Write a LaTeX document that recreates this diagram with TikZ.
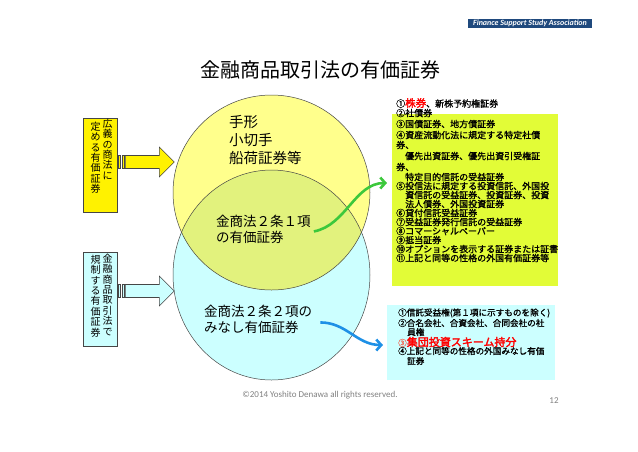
\documentclass[tikz,border=0pt]{standalone}
\usepackage{fontspec}
\setmainfont{Carlito}
\newfontfamily\jp{Noto Sans CJK JP}
\newfontfamily\jpmed{Noto Sans CJK JP}[FakeBold=1.2]
\newfontfamily\jpbold{Noto Sans CJK JP}[FakeBold=2.5]
\usepackage{tikz}
\usetikzlibrary{arrows.meta}
\usetikzlibrary{positioning}
\usetikzlibrary{calc}

\definecolor{hdrblue}{RGB}{31,73,125}
\definecolor{lightyel}{RGB}{255,255,140}
\definecolor{lightcyan}{RGB}{204,255,255}
\definecolor{mixyel}{RGB}{226,242,125}
\definecolor{listyel}{RGB}{226,252,55}
\definecolor{arrgreen}{RGB}{60,200,60}
\definecolor{arrblue}{RGB}{30,144,230}
\definecolor{edgegray}{RGB}{70,70,70}
\definecolor{paleRed}{RGB}{240,110,90}

\begin{document}
\begin{tikzpicture}[x=1pt, y=-1pt,
    every node/.style={inner sep=0pt, font=\jp},
    vbox/.style={draw=edgegray, line width=0.6pt, minimum width=34pt, minimum height=94pt},
    vcol/.style={anchor=north, align=center, font=\jp\fontsize{10}{10.4}\selectfont},
    circtext/.style={anchor=north west, align=left},
    item/.style={anchor=west, font=\jpmed\fontsize{9}{9}\selectfont},
    curvy/.style={line width=2.6pt, -{Straight Barb[length=5pt, width=11pt]}},
    blockarr/.style={draw=edgegray, line width=0.6pt}]
      \useasboundingbox (0,0) rectangle (638,451);
      % Striped block arrow at a given point
      \def\stripearrow#1#2{%
        \begin{scope}[shift={(#1)}]
          \filldraw[blockarr, fill=#2] (1,-6.5) rectangle (3,6.5);
          \filldraw[blockarr, fill=#2] (4.5,-6.5) rectangle (6.5,6.5);
          \filldraw[blockarr, fill=#2] (8,-6.5) -- (42,-6.5) -- (42,-15) -- (57,0)
            -- (42,15) -- (42,6.5) -- (8,6.5) -- cycle;
        \end{scope}}
      % Header bar and title
      \node[fill=hdrblue, text=white, minimum width=124pt, minimum height=9pt,
        font=\rmfamily\bfseries\itshape\fontsize{8}{9}\selectfont] (hdr) at (530,23)
        {Finance Support Study Association};
      \node[font=\jp\fontsize{20}{24}\selectfont] (title) at (320,70) {金融商品取引法の有価証券};
      % The two circles and their overlap
      \coordinate (ycen) at (271.5,192.5);
      \coordinate (bcen) at (271.5,275);
      \fill[lightcyan] (bcen) ellipse [x radius=98.5, y radius=105];
      \fill[lightyel] (ycen) ellipse [x radius=98.5, y radius=97.5];
      \begin{scope}
        \clip (bcen) ellipse [x radius=98.5, y radius=105];
        \fill[mixyel] (ycen) ellipse [x radius=98.5, y radius=97.5];
      \end{scope}
      \draw[edgegray, line width=0.5pt] (bcen) ellipse [x radius=98.5, y radius=105];
      \draw[edgegray, line width=0.5pt] (ycen) ellipse [x radius=98.5, y radius=97.5];
      % Texts inside the circles
      \node[circtext, font=\jp\fontsize{14.5}{18}\selectfont] (tegata) at (229,115)
        {手形\\小切手\\船荷証券等};
      \node[circtext, font=\jp\fontsize{13.5}{16}\selectfont] (art1) at (216,215)
        {金商法２条１項\\の有価証券};
      \node[circtext, font=\jp\fontsize{13.5}{16}\selectfont] (minashi) at (204,305)
        {金商法２条２項の\\みなし有価証券};
      % Left boxes with vertical text
      \node[vbox, fill=yellow] (kogi) at (100,165) {};
      \node[vcol] (kogiR) at ([shift={(7.5,1)}]kogi.north) {広\\義\\の\\商\\法\\に};
      \node[vcol] (kogiL) at ([shift={(-4.5,4)}]kogi.north) {定\\め\\る\\有\\価\\証\\券};
      \node[vbox, fill=lightcyan] (kisei) at (100,299) {};
      \node[vcol] (kiseiR) at ([shift={(7.5,2)}]kisei.north) {金\\融\\商\\品\\取\\引\\法\\で};
      \node[vcol] (kiseiL) at ([shift={(-4.5,3)}]kisei.north) {規\\制\\す\\る\\有\\価\\証\\券};
      \stripearrow{$(kogi.east)+(0,-3)$}{yellow}
      \stripearrow{$(kisei.east)+(0,-8)$}{lightcyan}
      % List of securities under Art. 2(1)
      \node[fill=listyel, minimum width=166pt, minimum height=172pt, anchor=north west] (list1) at (392,114) {};
      \foreach \x/\y/\t [count=\i] in {
          396/103/{①{\jpbold\color{red}\fontsize{10.5}{10}\selectfont 株券}、新株予約権証券},
          396/113/{②社債券},
          396/124/{③国債証券、地方債証券},
          396/135/{④資産流動化法に規定する特定社債},
          396/145/{券、},
          405/156/{優先出資証券、優先出資引受権証},
          396/167/{券、},
          405/177/{特定目的信託の受益証券},
          396/186/{⑤投信法に規定する投資信託、外国投},
          405/195/{資信託の受益証券、投資証券、投資},
          405/204/{法人債券、外国投資証券},
          396/213/{⑥貸付信託受益証券},
          396/222/{⑦受益証券発行信託の受益証券},
          396/231/{⑧コマーシャルペーパー},
          396/240/{⑨抵当証券},
          396/249/{⑩オプションを表示する証券または証書},
          396/258/{⑪上記と同等の性格の外国有価証券等}} {
        \node[item] (s\i) at (\x,\y) {\t};
      }
      % List of deemed securities under Art. 2(2)
      \node[fill=lightcyan, minimum width=168pt, minimum height=75pt, anchor=north west] (list2) at (387,305) {};
      \foreach \x/\y/\t [count=\i] in {
          398/313/{①信託受益権(第１項に示すものを除く)},
          398/323/{②合名会社、合資会社、合同会社の社},
          407/332/{員権},
          398/342/{{\color{paleRed}③}{\jpbold\color{red}\fontsize{11}{11}\selectfont 集団投資スキーム持分}},
          398/351/{④上記と同等の性格の外国みなし有価},
          407/361/{証券}} {
        \node[item, font=\jpmed\fontsize{8.6}{9}\selectfont] (m\i) at (\x,\y) {\t};
      }
      % Curved arrows to the lists
      \coordinate (gtip) at (387,183);
      \coordinate (btip) at (383,345);
      \draw[curvy, arrgreen] ([shift={(3,2)}]art1.east) .. controls +(32,-6) and +(-32,0) .. (gtip);
      \draw[curvy, arrblue] ([shift={(8,3)}]minashi.east) .. controls +(26,0) and +(-26,0) .. (btip);
      % Footer
      \node[font=\rmfamily\fontsize{9}{10}\selectfont, text=gray] (copy) at (320,395)
        {©2014 Yoshito Denawa all rights reserved.};
      \node[font=\rmfamily\fontsize{9}{10}\selectfont, text=gray] (pgno) at (554,401) {12};
    \end{tikzpicture}
\end{document}
